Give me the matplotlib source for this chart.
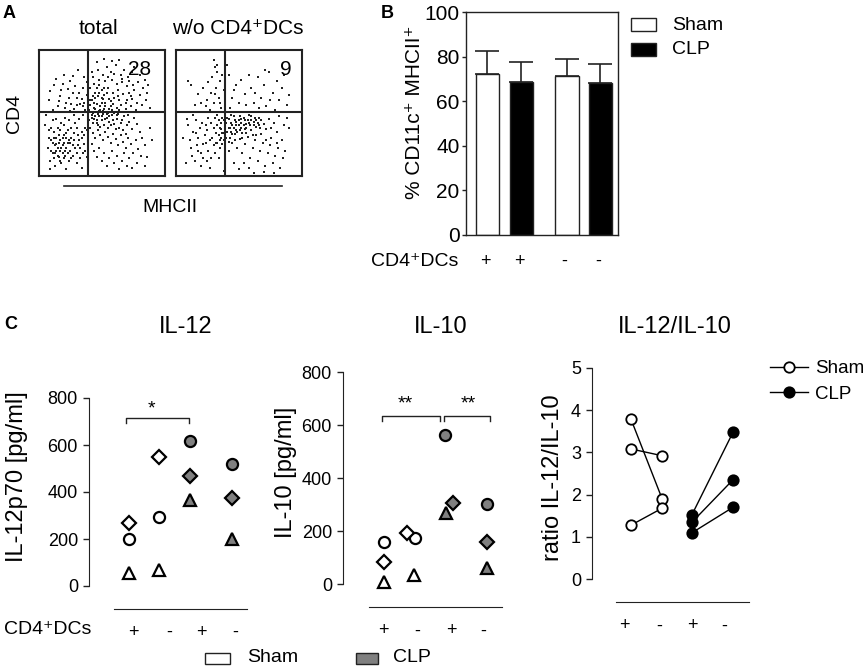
import matplotlib
matplotlib.use("Agg")
import matplotlib.pyplot as plt
from matplotlib.lines import Line2D
from matplotlib.patches import Rectangle

plt.rcParams['font.family'] = ['Liberation Sans', 'DejaVu Sans']

W, H = 865, 672

# ---- data ----
# panel A: flow dots (x, y in % of the plot box)
total_dots = [
    (12,72),(18,68),(25,75),(30,62),(35,70),(22,58),(15,55),(28,53),(33,57),(38,64),(8,60),(20,80),
    (27,66),(36,78),(31,84),(24,62),(17,63),(11,52),(37,52),(29,71),(34,61),(21,54),(26,57),(14,77),
    (32,66),(19,73),(38,74),(23,69),(9,67),(30,56),(36,58),(16,59),(27,79),(35,55),(25,51),
    (42,60),(45,66),(48,72),(50,58),(52,64),(55,70),(58,76),(60,62),(63,68),(66,74),(70,60),(72,66),
    (75,72),(78,58),(80,64),(43,78),(47,84),(51,80),(54,86),(57,82),(61,88),(65,80),(68,84),(71,78),
    (74,82),(44,54),(46,57),(49,52),(53,55),(56,53),(59,57),(62,54),(65,56),(69,53),(73,55),(77,52),
    (82,56),(85,60),(88,54),(41,70),(44,73),(47,63),(50,68),(53,75),(56,61),(59,66),(62,73),(64,60),
    (67,65),(70,71),(73,63),(76,68),(79,74),(83,70),(86,66),(46,90),(52,93),(58,91),(64,92),(48,76),
    (55,78),(60,81),(66,77),(72,75),(42,82),(76,86),(80,80),(84,76),(45,62),(51,61),(57,59),(63,63),
    (69,58),(74,61),(87,72),
    (42,48),(44,45),(46,42),(48,47),(50,44),(52,40),(54,46),(56,43),(58,48),(60,41),(62,45),(64,38),
    (66,44),(68,47),(70,40),(72,43),(74,37),(76,46),(78,41),(80,35),(41,38),(43,34),(45,30),(47,36),
    (49,32),(51,28),(53,35),(55,31),(57,26),(59,33),(61,29),(63,24),(65,32),(67,27),(69,22),(71,30),
    (73,25),(75,18),(77,28),(79,21),(82,30),(84,24),(86,15),(88,38),(90,28),(42,25),(44,20),(46,15),
    (48,22),(50,12),(52,18),(54,8),(56,14),(58,20),(60,10),(62,16),(64,5),(66,12),(68,18),(70,8),
    (72,14),(74,6),(78,10),(81,16),(84,8),(43,42),(47,40),(51,49),(55,38),(59,44),(63,49),(67,36),
    (71,48),(45,47),(53,45),(61,37),(69,33),(57,40),(49,39),(65,42),
    (5,40),(8,30),(10,20),(12,35),(14,25),(16,15),(18,42),(20,32),(22,22),(24,12),(26,38),(28,28),
    (30,18),(32,45),(34,35),(36,25),(38,15),(6,48),(9,12),(11,44),(13,8),(15,38),(17,28),(19,18),
    (21,46),(23,36),(25,26),(27,16),(29,42),(31,32),(33,22),(35,48),(37,38),(7,22),(10,28),(13,18),
    (16,32),(19,24),(22,30),(25,20),(28,34),(31,24),(34,30),(37,20),(12,14),(15,22),(18,10),(21,16),
    (24,28),(27,24),(30,10),(33,14),(36,32),(39,44),(39,28),(8,36),(11,26),(14,30),(17,20),(20,26),
    (23,18),(26,30),(29,22),(32,28),(35,18),(38,36),(20,40),(24,44),(28,48),(14,45),(9,5),(22,5),
    (34,6),(17,36),(30,38),
    (40,52),(41,56),(43,50),(45,53),(47,49),(49,55),(51,51),(53,58),(55,50),(57,55),(46,44),(48,51),
    (50,47),(52,53),(54,49),(44,58),(42,46),(40,44),(41,60),(43,63),(56,47),(58,52),(60,50),(62,48),
    (64,52),(50,62),(54,66),(48,66),(46,70),(52,70),
    (18,22),(20,14),(14,20),(16,26),(22,34),(12,30),(10,38),(26,14),(19,30),(23,26),(15,16),(13,24),
    (21,20),(17,12),(11,18),
]
depleted_dots = [
    (30,92),(31,86),(33,82),(29,78),(35,75),(32,70),(28,66),(34,62),(30,58),(10,75),(12,72),(18,65),
    (22,70),(25,60),(15,56),(36,54),(27,52),(20,58),(38,68),(33,88),(26,74),(37,80),(24,55),(35,58),
    (31,65),
    (42,80),(45,62),(48,72),(52,76),(55,65),(58,80),(60,70),(62,58),(65,78),(68,62),(70,72),(72,55),
    (74,82),(77,66),(80,75),(82,60),(84,70),(86,80),(88,56),(41,88),(43,54),(50,58),(56,56),(63,66),
    (66,54),(75,60),(79,52),(90,64),(46,68),(71,84),
    (42,45),(44,42),(46,47),(48,40),(50,44),(52,38),(54,46),(56,41),(58,48),(60,36),(62,43),(64,39),
    (66,46),(68,33),(70,41),(72,37),(74,45),(76,30),(78,42),(80,35),(82,47),(84,28),(86,40),(88,46),
    (90,38),(41,35),(43,30),(45,26),(47,33),(49,22),(51,29),(53,18),(55,25),(57,31),(59,14),(61,22),
    (63,28),(65,12),(67,20),(69,26),(71,8),(73,18),(75,24),(77,10),(79,16),(81,22),(83,6),(85,14),
    (87,20),(44,48),(48,36),(52,42),(56,34),(60,44),(64,32),(68,44),(72,28),(76,38),(80,26),(42,20),
    (46,10),(50,5),(54,10),(58,6),(62,2),(70,3),(78,2),(43,38),(47,44),(51,47),(55,37),(59,40),
    (63,46),(67,38),(45,40),(53,34),(61,32),(57,44),(65,42),
    (10,40),(14,35),(18,30),(22,25),(26,20),(30,38),(34,32),(38,28),(12,22),(16,44),(20,18),(24,40),
    (28,14),(32,26),(36,42),(39,36),(6,30),(8,10),(15,12),(19,38),(23,32),(27,28),(31,18),(35,22),
    (37,46),(11,28),(17,24),(21,42),(25,36),(29,30),(33,40),(37,34),(39,20),(13,16),(20,8),(26,46),
    (30,24),(34,14),(38,44),(24,26),(28,42),(32,34),(36,30),(22,14),(18,20),(9,45),(33,48),(39,10),
    (27,6),(14,48),(31,46),(35,38),(25,12),(38,4),(16,34),
    (40,42),(41,46),(42,38),(44,35),(46,38),(48,43),(50,40),(52,45),(54,40),(56,38),(58,42),(40,30),
    (42,27),(45,33),(47,28),(49,35),(51,36),(53,30),(55,44),(39,40),(38,34),(36,37),(34,44),(37,25),
    (35,28),(33,26),(60,47),(62,40),(64,44),(66,40),
]
quadrant_pct = ['28', '9']

# panel B
bar_means = [72, 68.5, 71.3, 68]
bar_err = [10.4, 9.1, 7.7, 8.5]
bar_signs = ['+', '+', '-', '-']

# panel C (order: Sham +, Sham -, CLP +, CLP -)
group_signs = ['+', '-', '+', '-']
il12_circle = [201, 292, 618, 518]
il12_diamond = [267, 550, 468, 376]
il12_triangle = [54, 68, 366, 199]
il10_circle = [161, 174, 563, 302]
il10_diamond = [85, 192, 308, 161]
il10_triangle = [10, 35, 268, 60]
ratio_sham_plus = [3.78, 3.08, 1.28]
ratio_sham_minus = [1.90, 2.92, 1.68]
ratio_clp_plus = [1.53, 1.35, 1.10]
ratio_clp_minus = [3.47, 2.35, 1.70]

DARK = '#222222'
GREY = '#808080'


def rect(x0, y0, x1, y1):
    return [x0 / W, 1 - y1 / H, (x1 - x0) / W, (y1 - y0) / H]


def ftext(x, y, s, **kw):
    kw.setdefault('ha', 'center')
    kw.setdefault('va', 'center')
    fig.text(x / W, 1 - y / H, s, **kw)


def fline(x0, x1, y, **kw):
    fig.add_artist(Line2D([x0 / W, x1 / W], [1 - y / H, 1 - y / H],
                          transform=fig.transFigure, color=DARK, lw=1.2, **kw))


def fbox(x0, y0, x1, y1, fc):
    fig.add_artist(Rectangle((x0 / W, 1 - y1 / H), (x1 - x0) / W, (y1 - y0) / H,
                             transform=fig.transFigure, fc=fc, ec=DARK, lw=1))


fig = plt.figure(figsize=(W / 100, H / 100), dpi=100)

# ---------------- panel A ----------------
for i, (dots, pct) in enumerate([(total_dots, quadrant_pct[0]), (depleted_dots, quadrant_pct[1])]):
    x0 = 38.7 + i * 137
    ax = fig.add_axes(rect(x0, 49.7, x0 + 126, 175.7))
    ax.scatter([d[0] for d in dots], [d[1] for d in dots], s=1.4, c=DARK, marker='s', lw=0)
    ax.axvline(39.4, color=DARK, lw=1.5)
    ax.axhline(50.3, color=DARK, lw=1.5)
    ax.set_xlim(0, 100)
    ax.set_ylim(0, 100)
    ax.set_xticks([])
    ax.set_yticks([])
    for sp in ax.spines.values():
        sp.set_linewidth(1.5)
        sp.set_color(DARK)
    ax.text(0.875 if i else 0.8, 0.84, pct, transform=ax.transAxes, fontsize=15,
            ha='center', va='center')

ftext(9, 13, 'A', fontsize=13, fontweight='bold')
ftext(98, 28, 'total', fontsize=15)
ftext(238, 28, 'w/o CD4⁺DCs', fontsize=15)
ftext(15, 113, 'CD4', fontsize=14, rotation=90)
ftext(170, 207, 'MHCII', fontsize=14)
fline(64, 282, 186)

# ---------------- panel B ----------------
axb = fig.add_axes(rect(466, 12, 618, 235))
bpos = [0, 1, 2.34, 3.32]
bcol = ['white', 'black', 'white', 'black']
axb.errorbar(bpos, bar_means, yerr=[[0] * 4, bar_err], fmt='none', ecolor=DARK,
             elinewidth=1.2, capsize=8.5, capthick=1.2, zorder=1)
axb.bar(bpos, bar_means, width=0.68, color=bcol, edgecolor=DARK, lw=1, zorder=2)
axb.set_xlim(-0.632, 3.84)
axb.set_ylim(0, 100)
axb.set_yticks(range(0, 101, 20))
axb.set_xticks([])
axb.tick_params(axis='y', labelsize=15, length=3, width=1, color=DARK, pad=1.5)
for sp in axb.spines.values():
    sp.set_color(DARK)
    sp.set_linewidth(1)
for p, s in zip(bpos, bar_signs):
    axb.text(p - 0.07, -0.12, s, transform=axb.get_xaxis_transform(), fontsize=13,
             ha='center', va='center')
ftext(415, 112, '% CD11c⁺ MHCII⁺', fontsize=15, rotation=90)
ftext(458, 262, 'CD4⁺DCs', fontsize=14, ha='right')
ftext(387, 13, 'B', fontsize=13, fontweight='bold')
fbox(631, 18, 656, 31, 'white')
fbox(631, 43, 656, 56, 'black')
ftext(672, 25, 'Sham', fontsize=14, ha='left')
ftext(672, 49, 'CLP', fontsize=14, ha='left')

# ---------------- panel C ----------------
ftext(11, 325, 'C', fontsize=13, fontweight='bold')


def style_c(ax, lo, hi):
    for k in ['top', 'right']:
        ax.spines[k].set_visible(False)
    ax.spines['left'].set_color(DARK)
    ax.spines['bottom'].set_color(DARK)
    ax.spines['bottom'].set_position(('outward', 16.5))
    ax.spines['bottom'].set_bounds(lo, hi)
    ax.tick_params(axis='y', labelsize=13, length=4.5, width=1, color=DARK)
    ax.tick_params(axis='x', length=0, labelsize=13, pad=11)


def scatter_c(ax, xs, vals, marker, ms, clp_fill):
    for j, (x, v) in enumerate(zip(xs, vals)):
        fc = 'white' if j < 2 else clp_fill
        ax.plot(x, v, marker=marker, ms=ms, mfc=fc, mec='black', mew=1.6,
                ls='none', clip_on=False, zorder=3)


def bracket(ax, x0, x1, y, drop):
    ax.plot([x0, x0, x1, x1], [y - drop, y, y, y - drop], color=DARK, lw=1, clip_on=False)


# IL-12
ax12 = fig.add_axes(rect(89, 398, 248, 586))
pos = [0, 1, 2, 3.38]
scatter_c(ax12, pos, il12_circle, 'o', 8, GREY)
scatter_c(ax12, pos, il12_diamond, 'D', 7, GREY)
scatter_c(ax12, pos, il12_triangle, '^', 8, GREY)
bracket(ax12, -0.1, 1.97, 715, 21)
ax12.text(0.75, 752, '*', fontsize=14, ha='center', va='center')
ax12.set_xlim(-1.31, 3.9)
ax12.set_ylim(0, 800)
ax12.set_yticks(range(0, 801, 200))
ax12.set_xticks([0.16, 1.31, 2.36, 3.48], group_signs)
style_c(ax12, -0.49, 3.87)
ftext(17, 477, 'IL-12p70 [pg/ml]', fontsize=17, rotation=90)
ftext(186, 327, 'IL-12', fontsize=17)
ftext(48, 630, 'CD4⁺DCs', fontsize=14)

# IL-10
ax10 = fig.add_axes(rect(343, 372.3, 505, 584.3))
scatter_c(ax10, [0, 0.97, 1.91, 3.22], il10_circle, 'o', 8, GREY)
scatter_c(ax10, [0, 0.72, 2.16, 3.22], il10_diamond, 'D', 7, GREY)
scatter_c(ax10, [0, 0.94, 1.94, 3.22], il10_triangle, '^', 8, GREY)
bracket(ax10, -0.06, 1.75, 635, 19)
bracket(ax10, 1.875, 3.31, 635, 19)
ax10.text(0.66, 682, '**', fontsize=14, ha='center', va='center')
ax10.text(2.62, 682, '**', fontsize=14, ha='center', va='center')
ax10.set_xlim(-1.28, 3.78)
ax10.set_ylim(0, 800)
ax10.set_yticks(range(0, 801, 200))
ax10.set_xticks([-0.03, 1.03, 2.09, 3.09], group_signs)
style_c(ax10, -0.47, 3.69)
ftext(286, 472, 'IL-10 [pg/ml]', fontsize=17, rotation=90)
ftext(441, 327, 'IL-10', fontsize=17)

# ratio
axr = fig.add_axes(rect(592, 367.7, 750, 579.3))
rpos = [0, 1.02, 2, 3.34]
for a, b in zip(ratio_sham_plus, ratio_sham_minus):
    axr.plot([rpos[0], rpos[1]], [a, b], color='black', lw=1, marker='o', ms=7.5,
             mfc='white', mec='black', mew=1.3, clip_on=False)
for a, b in zip(ratio_clp_plus, ratio_clp_minus):
    axr.plot([rpos[2], rpos[3]], [a, b], color='black', lw=1, marker='o', ms=7.5,
             mfc='black', mec='black', mew=1.3, clip_on=False)
axr.set_xlim(-1.28, 3.9)
axr.set_ylim(0, 5)
axr.set_yticks(range(0, 6))
axr.set_xticks([-0.23, 0.92, 2.0, 3.05], group_signs)
style_c(axr, -0.49, 3.87)
ftext(553, 478, 'ratio IL-12/IL-10', fontsize=17, rotation=90)
ftext(675, 327, 'IL-12/IL-10', fontsize=17)
leg = [Line2D([], [], color='black', lw=1, marker='o', ms=7.5, mfc='white', mec='black', mew=1.3),
       Line2D([], [], color='black', lw=1, marker='o', ms=7.5, mfc='black', mec='black', mew=1.3)]
fig.legend(leg, ['Sham', 'CLP'], loc='upper left', bbox_to_anchor=(770 / W, 1 - 360 / H),
           frameon=False, fontsize=13.5, handlelength=2.0, handletextpad=0.4,
           labelspacing=0.45, borderpad=0, borderaxespad=0)

# bottom legend
fbox(205, 653, 230, 664, 'white')
fbox(356, 653, 378, 664, GREY)
ftext(247, 658, 'Sham', fontsize=14, ha='left')
ftext(393, 658, 'CLP', fontsize=14, ha='left')

fig.savefig('out.png', dpi=100)
